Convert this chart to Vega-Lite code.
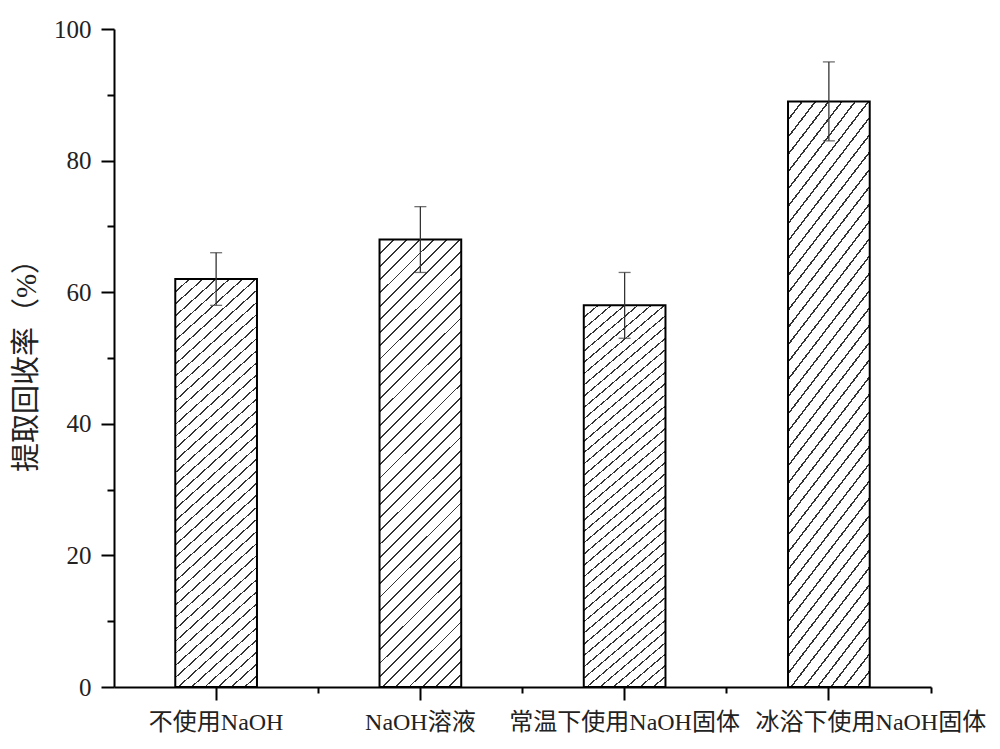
{
  "$schema": "https://vega.github.io/schema/vega-lite/v6.json",
  "width": 817,
  "height": 658,
  "autosize": "none",
  "padding": {"left": 114, "top": 29, "right": 69, "bottom": 62},
  "background": "white",
  "config": {
    "view": {"stroke": null},
    "axis": {
      "grid": false,
      "domainColor": "#000",
      "domainWidth": 2,
      "tickColor": "#000",
      "tickWidth": 2,
      "labelFont": "Liberation Serif, Noto Sans CJK SC",
      "labelColor": "#222",
      "labelLimit": 0,
      "titleFont": "Liberation Serif, Noto Sans CJK SC",
      "titleColor": "#222",
      "titleFontWeight": "normal"
    }
  },
  "data": {
    "values": [
      {"c": "不使用NaOH", "v": 62, "lo": 58, "hi": 66},
      {"c": "NaOH溶液", "v": 68, "lo": 63, "hi": 73},
      {"c": "常温下使用NaOH固体", "v": 58, "lo": 53, "hi": 63},
      {"c": "冰浴下使用NaOH固体", "v": 89, "lo": 83, "hi": 95}
    ]
  },
  "layer": [
    {
      "mark": {
        "type": "bar",
        "stroke": "#000",
        "strokeWidth": 2,
        "fill": {
          "gradient": "linear",
          "x1": 0, "y1": 0, "x2": 0.208, "y2": 1.144,
          "stops": [
            {"offset": 0, "color": "#333"}, {"offset": 0.0035, "color": "#333"}, {"offset": 0.0035, "color": "#fff"}, {"offset": 0.025, "color": "#fff"},
            {"offset": 0.025, "color": "#333"}, {"offset": 0.0285, "color": "#333"}, {"offset": 0.0285, "color": "#fff"}, {"offset": 0.05, "color": "#fff"},
            {"offset": 0.05, "color": "#333"}, {"offset": 0.0535, "color": "#333"}, {"offset": 0.0535, "color": "#fff"}, {"offset": 0.075, "color": "#fff"},
            {"offset": 0.075, "color": "#333"}, {"offset": 0.0785, "color": "#333"}, {"offset": 0.0785, "color": "#fff"}, {"offset": 0.1, "color": "#fff"},
            {"offset": 0.1, "color": "#333"}, {"offset": 0.1035, "color": "#333"}, {"offset": 0.1035, "color": "#fff"}, {"offset": 0.125, "color": "#fff"},
            {"offset": 0.125, "color": "#333"}, {"offset": 0.1285, "color": "#333"}, {"offset": 0.1285, "color": "#fff"}, {"offset": 0.15, "color": "#fff"},
            {"offset": 0.15, "color": "#333"}, {"offset": 0.1535, "color": "#333"}, {"offset": 0.1535, "color": "#fff"}, {"offset": 0.175, "color": "#fff"},
            {"offset": 0.175, "color": "#333"}, {"offset": 0.1785, "color": "#333"}, {"offset": 0.1785, "color": "#fff"}, {"offset": 0.2, "color": "#fff"},
            {"offset": 0.2, "color": "#333"}, {"offset": 0.2035, "color": "#333"}, {"offset": 0.2035, "color": "#fff"}, {"offset": 0.225, "color": "#fff"},
            {"offset": 0.225, "color": "#333"}, {"offset": 0.2285, "color": "#333"}, {"offset": 0.2285, "color": "#fff"}, {"offset": 0.25, "color": "#fff"},
            {"offset": 0.25, "color": "#333"}, {"offset": 0.2535, "color": "#333"}, {"offset": 0.2535, "color": "#fff"}, {"offset": 0.275, "color": "#fff"},
            {"offset": 0.275, "color": "#333"}, {"offset": 0.2785, "color": "#333"}, {"offset": 0.2785, "color": "#fff"}, {"offset": 0.3, "color": "#fff"},
            {"offset": 0.3, "color": "#333"}, {"offset": 0.3035, "color": "#333"}, {"offset": 0.3035, "color": "#fff"}, {"offset": 0.325, "color": "#fff"},
            {"offset": 0.325, "color": "#333"}, {"offset": 0.3285, "color": "#333"}, {"offset": 0.3285, "color": "#fff"}, {"offset": 0.35, "color": "#fff"},
            {"offset": 0.35, "color": "#333"}, {"offset": 0.3535, "color": "#333"}, {"offset": 0.3535, "color": "#fff"}, {"offset": 0.375, "color": "#fff"},
            {"offset": 0.375, "color": "#333"}, {"offset": 0.3785, "color": "#333"}, {"offset": 0.3785, "color": "#fff"}, {"offset": 0.4, "color": "#fff"},
            {"offset": 0.4, "color": "#333"}, {"offset": 0.4035, "color": "#333"}, {"offset": 0.4035, "color": "#fff"}, {"offset": 0.425, "color": "#fff"},
            {"offset": 0.425, "color": "#333"}, {"offset": 0.4285, "color": "#333"}, {"offset": 0.4285, "color": "#fff"}, {"offset": 0.45, "color": "#fff"},
            {"offset": 0.45, "color": "#333"}, {"offset": 0.4535, "color": "#333"}, {"offset": 0.4535, "color": "#fff"}, {"offset": 0.475, "color": "#fff"},
            {"offset": 0.475, "color": "#333"}, {"offset": 0.4785, "color": "#333"}, {"offset": 0.4785, "color": "#fff"}, {"offset": 0.5, "color": "#fff"},
            {"offset": 0.5, "color": "#333"}, {"offset": 0.5035, "color": "#333"}, {"offset": 0.5035, "color": "#fff"}, {"offset": 0.525, "color": "#fff"},
            {"offset": 0.525, "color": "#333"}, {"offset": 0.5285, "color": "#333"}, {"offset": 0.5285, "color": "#fff"}, {"offset": 0.55, "color": "#fff"},
            {"offset": 0.55, "color": "#333"}, {"offset": 0.5535, "color": "#333"}, {"offset": 0.5535, "color": "#fff"}, {"offset": 0.575, "color": "#fff"},
            {"offset": 0.575, "color": "#333"}, {"offset": 0.5785, "color": "#333"}, {"offset": 0.5785, "color": "#fff"}, {"offset": 0.6, "color": "#fff"},
            {"offset": 0.6, "color": "#333"}, {"offset": 0.6035, "color": "#333"}, {"offset": 0.6035, "color": "#fff"}, {"offset": 0.625, "color": "#fff"},
            {"offset": 0.625, "color": "#333"}, {"offset": 0.6285, "color": "#333"}, {"offset": 0.6285, "color": "#fff"}, {"offset": 0.65, "color": "#fff"},
            {"offset": 0.65, "color": "#333"}, {"offset": 0.6535, "color": "#333"}, {"offset": 0.6535, "color": "#fff"}, {"offset": 0.675, "color": "#fff"},
            {"offset": 0.675, "color": "#333"}, {"offset": 0.6785, "color": "#333"}, {"offset": 0.6785, "color": "#fff"}, {"offset": 0.7, "color": "#fff"},
            {"offset": 0.7, "color": "#333"}, {"offset": 0.7035, "color": "#333"}, {"offset": 0.7035, "color": "#fff"}, {"offset": 0.725, "color": "#fff"},
            {"offset": 0.725, "color": "#333"}, {"offset": 0.7285, "color": "#333"}, {"offset": 0.7285, "color": "#fff"}, {"offset": 0.75, "color": "#fff"},
            {"offset": 0.75, "color": "#333"}, {"offset": 0.7535, "color": "#333"}, {"offset": 0.7535, "color": "#fff"}, {"offset": 0.775, "color": "#fff"},
            {"offset": 0.775, "color": "#333"}, {"offset": 0.7785, "color": "#333"}, {"offset": 0.7785, "color": "#fff"}, {"offset": 0.8, "color": "#fff"},
            {"offset": 0.8, "color": "#333"}, {"offset": 0.8035, "color": "#333"}, {"offset": 0.8035, "color": "#fff"}, {"offset": 0.825, "color": "#fff"},
            {"offset": 0.825, "color": "#333"}, {"offset": 0.8285, "color": "#333"}, {"offset": 0.8285, "color": "#fff"}, {"offset": 0.85, "color": "#fff"},
            {"offset": 0.85, "color": "#333"}, {"offset": 0.8535, "color": "#333"}, {"offset": 0.8535, "color": "#fff"}, {"offset": 0.875, "color": "#fff"},
            {"offset": 0.875, "color": "#333"}, {"offset": 0.8785, "color": "#333"}, {"offset": 0.8785, "color": "#fff"}, {"offset": 0.9, "color": "#fff"},
            {"offset": 0.9, "color": "#333"}, {"offset": 0.9035, "color": "#333"}, {"offset": 0.9035, "color": "#fff"}, {"offset": 0.925, "color": "#fff"},
            {"offset": 0.925, "color": "#333"}, {"offset": 0.9285, "color": "#333"}, {"offset": 0.9285, "color": "#fff"}, {"offset": 0.95, "color": "#fff"},
            {"offset": 0.95, "color": "#333"}, {"offset": 0.9535, "color": "#333"}, {"offset": 0.9535, "color": "#fff"}, {"offset": 0.975, "color": "#fff"},
            {"offset": 0.975, "color": "#333"}, {"offset": 0.9785, "color": "#333"}, {"offset": 0.9785, "color": "#fff"}, {"offset": 1, "color": "#fff"}
          ]
        }
      },
      "encoding": {
        "x": {
          "field": "c", "type": "nominal", "sort": null,
          "scale": {"paddingInner": 0.6, "paddingOuter": 0.3},
          "axis": {
            "title": null, "labelAngle": 0, "tickSize": 13, "labelFontSize": 24,
            "labelPadding": 10, "labelOverlap": false, "labelLimit": 0,
            "labelOffset": {"condition": {"test": "datum.value === '冰浴下使用NaOH固体'", "value": 42}, "value": 0}
          }
        },
        "y": {
          "field": "v", "type": "quantitative",
          "scale": {"domain": [0, 100], "nice": false},
          "axis": {
            "values": [0, 20, 40, 60, 80, 100], "tickSize": 13, "labelFontSize": 25,
            "labelPadding": 10, "title": "提取回收率（%）", "titleFontSize": 29, "titlePadding": 12
          }
        }
      }
    },
    {
      "mark": {"type": "rule", "color": "#333", "strokeWidth": 1.3},
      "encoding": {
        "x": {
          "field": "c", "type": "nominal", "sort": null,
          "axis": {"orient": "bottom", "title": null, "labels": false, "domain": false, "tickSize": 6, "bandPosition": 1.75}
        },
        "y": {
          "field": "lo", "type": "quantitative",
          "scale": {"domain": [0, 100], "nice": false},
          "axis": {"orient": "left", "title": null, "labels": false, "domain": false, "values": [10, 30, 50, 70, 90], "tickSize": 7}
        },
        "y2": {"field": "hi"}
      }
    },
    {
      "mark": {"type": "tick", "color": "#333", "size": 12, "thickness": 1.3},
      "encoding": {
        "x": {"field": "c", "type": "nominal", "sort": null, "axis": null},
        "y": {"field": "lo", "type": "quantitative", "scale": {"domain": [0, 100], "nice": false}, "axis": null}
      }
    },
    {
      "mark": {"type": "tick", "color": "#333", "size": 12, "thickness": 1.3},
      "encoding": {
        "x": {"field": "c", "type": "nominal", "sort": null, "axis": null},
        "y": {"field": "hi", "type": "quantitative", "scale": {"domain": [0, 100], "nice": false}, "axis": null}
      }
    }
  ],
  "resolve": {"axis": {"x": "independent", "y": "independent"}}
}
